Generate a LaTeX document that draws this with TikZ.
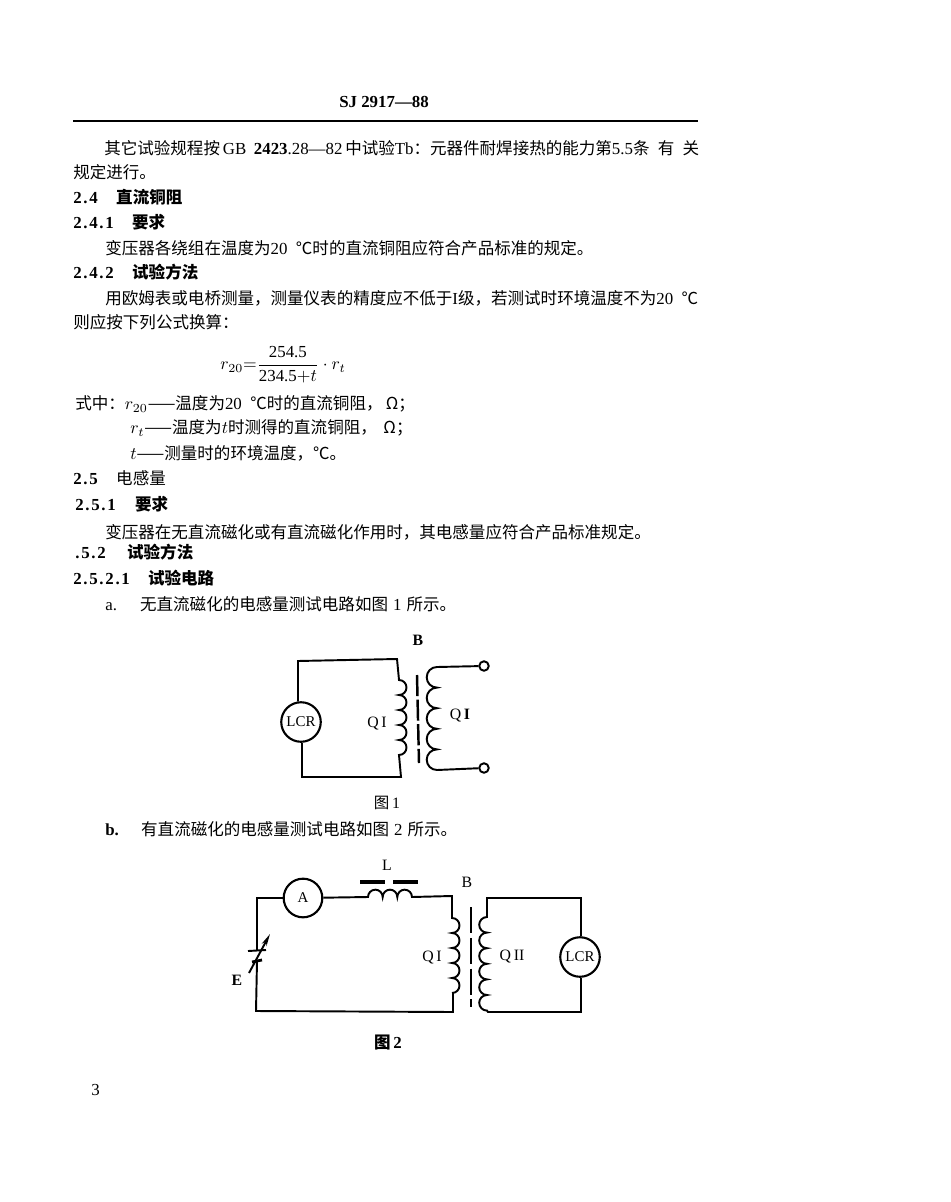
\documentclass[tikz,border=0pt]{standalone}
\usepackage{fontspec}
\setmainfont{Liberation Serif}
\newfontfamily\cjk[Scale=0.98]{Noto Sans CJK SC}
\newfontfamily\numfont[LetterSpace=10]{Liberation Serif}
\newcommand{\zh}[1]{{\cjk #1}}
\newcommand{\zhb}[1]{{\cjk\bfseries #1}}
\newcommand{\hnum}[2]{\makebox[#1pt][l]{{\numfont\bfseries #2}}}
\usepackage{amsmath}
\usetikzlibrary{arrows.meta}
\tikzset{
    page text/.style={anchor=west, inner sep=0pt, font=\fontsize{9.6}{11}\selectfont},
    head text/.style={page text, font=\fontsize{9.6}{11}\selectfont\bfseries},
    fig label/.style={inner sep=0pt, font=\fontsize{9}{11}\selectfont},
    wire/.style={line width=1.1pt},
    meter/.style={circle, draw, line width=1.2pt, fill=white, inner sep=0pt, minimum size=22.5pt, font=\fontsize{8.5}{10}\selectfont},
    terminal/.style={circle, draw, line width=1.1pt, fill=white, inner sep=0pt, minimum size=5.4pt},
    core/.style={line width=1.4pt, dash pattern=on 12pt off 2pt},
}
\begin{document}
\begin{tikzpicture}[x=0.02cm, y=-0.02cm]
    \useasboundingbox (0,0) rectangle (950,1202);

    % header
    \node[head text, anchor=center] (header) at (384,102) {SJ 2917---88};
    \coordinate (ruleL) at (73,121);
    \coordinate (ruleR) at (698,121);
    \draw[line width=1pt] (ruleL) -- (ruleR);

    % body text
    \node[page text] (t1) at (104,148) {\zh{其它试验规程按}\,GB\hspace{0.45em}\textbf{2423}.28---82\,\zh{中试验}Tb\zh{：元器件耐焊接热的能力第}5.5\zh{条\hspace{0.5em}有\hspace{0.5em}关}};
    \node[page text] (t2) at (73,172) {\zh{规定进行。}};
    \node[page text] (t3) at (73,197) {\hnum{24.4}{2.4}\zhb{直流铜阻}};
    \node[page text] (t4) at (73,222) {\hnum{33.5}{2.4.1}\zhb{要求}};
    \node[page text] (t5) at (105,248) {\zh{变压器各绕组在温度为}20\hspace{0.5em}\zh{℃时的直流铜阻应符合产品标准的规定。}};
    \node[page text] (t6) at (73,272) {\hnum{33.5}{2.4.2}\zhb{试验方法}};
    \node[page text] (t7) at (105,298) {\zh{用欧姆表或电桥测量，测量仪表的精度应不低于}I\zh{级，若测试时环境温度不为}20\hspace{0.5em}\zh{℃}};
    \node[page text] (t8) at (73,322) {\zh{则应按下列公式换算：}};
    \node[page text] (formula) at (220,365) {$r_{20}{=}\dfrac{\mbox{254.5}}{\mbox{234.5}{+}t}\cdot r_t$};
    \node[page text] (t9) at (75,404) {\zh{式中：}$r_{20}$\zh{——温度为}20\hspace{0.5em}\zh{℃时的直流铜阻，\hspace{0.2em}Ω；}};
    \node[page text] (t10) at (130,428) {$r_t$\zh{——温度为}$t$\zh{时测得的直流铜阻，\hspace{0.4em}Ω；}};
    \node[page text] (t11) at (130,453) {$t$\zh{——测量时的环境温度，℃。}};
    \node[page text] (t12) at (73,478) {\hnum{24.4}{2.5}\zh{电感量}};
    \node[page text] (t13) at (75,504) {\hnum{34}{2.5.1}\zhb{要求}};
    \node[page text] (t14) at (105,532) {\zh{变压器在无直流磁化或有直流磁化作用时，其电感量应符合产品标准规定。}};
    \node[page text] (t15) at (75,552) {\hnum{29.5}{.5.2}\zhb{试验方法}};
    \node[page text] (t16) at (73,578) {\hnum{42.5}{2.5.2.1}\zhb{试验电路}};
    \node[page text] (t17) at (105,604) {\makebox[19.8pt][l]{a.}\zh{无直流磁化的电感量测试电路如图}\hspace{0.3em}1\hspace{0.3em}\zh{所示。}};
    \node[page text] (t18) at (105,829) {\makebox[20.4pt][l]{\textbf{b.}}\zh{有直流磁化的电感量测试电路如图}\hspace{0.3em}2\hspace{0.3em}\zh{所示。}};
    \node[page text] (pagenum) at (91,1090) {3};

    % figure 1
    \node[meter] (lcrA) at (301,722) {LCR};
    \node[terminal] (termA) at (484,666) {};
    \node[terminal] (termB) at (484,768) {};
    \coordinate (pA1) at (298,661);
    \coordinate (pA2) at (397,659);
    \coordinate (pA3) at (399,680);
    \coordinate (pA4) at (401,777);
    \coordinate (pA5) at (302,777);
    \coordinate (sA1) at (437,667);
    \coordinate (sA2) at (437,770);
    \draw[wire] (lcrA) -- (lcrA.north -| pA1) -- (pA1) -- (pA2) -- (pA3)
        \foreach \i in {1,...,5} {arc (-90:90:7.5)} -- (pA4) -- (pA5) -- (lcrA.south -| pA5);
    \draw[wire] (termA) -- (sA1)
        \foreach \i in {1,...,5} {arc (-90:-270:10.3)} -- (termB);
    \coordinate (coreA1) at (417,675);
    \coordinate (coreA2) at (419,763);
    \draw[core] (coreA1) -- (coreA2);
    \node[fig label] (labBA) at (418,640) {\textbf{B}};
    \node[fig label] (labQA) at (377,724) {Q\,I};
    \node[fig label] (labQB) at (460,716) {Q\,\textbf{I}};
    \node[fig label] (capA) at (387,803) {\zh{图}\,1};

    % figure 2
    \node[meter, minimum size=22pt] (ammeter) at (303,898) {A};
    \node[meter] (lcrB) at (580,957) {LCR};
    \coordinate (pB1) at (257,898);
    \coordinate (pB2) at (256,1011);
    \coordinate (pB3) at (453,1012);
    \coordinate (pB4) at (453,993);
    \coordinate (pB5) at (452,918);
    \coordinate (pB6) at (452,896);
    \coordinate (lA) at (368,897);
    \coordinate (lB) at (412,897);
    \coordinate (batTop) at (257,950);
    \coordinate (batBot) at (257,961);
    % battery wires
    \draw[wire] (ammeter) -- (pB1) -- (batTop);
    \draw[wire] (batBot) -- (pB2) -- (pB3) -- (pB4);
    \draw[wire] (ammeter) -- (lA) \foreach \i in {1,...,3} {arc (180:360:7.33)} -- (pB6) -- (pB5)
        \foreach \i in {1,...,5} {arc (-90:90:7.5)};
    \coordinate (sB1) at (487,898);
    \coordinate (sB2) at (487,917);
    \coordinate (sB3) at (488,1012);
    \coordinate (sB4) at (581,1012);
    \coordinate (sB5) at (581,898);
    \draw[wire] (lcrB) -- (lcrB.north -| sB5) -- (sB5) -- (sB1) -- (sB2)
        \foreach \i in {1,...,6} {arc (-90:-270:7.8)} -- (sB3) -- (sB4) -- (lcrB.south -| sB4);
    \coordinate (coreB1) at (471,907);
    \coordinate (coreB2) at (471,1007);
    \draw[core, dash pattern=on 15pt off 2.5pt] (coreB1) -- (coreB2);
    \coordinate (barA1) at (360,882);
    \coordinate (barA2) at (385,882);
    \coordinate (barB1) at (393,882);
    \coordinate (barB2) at (418,882);
    \draw[line width=2pt] (barA1) -- (barA2);
    \draw[line width=2pt] (barB1) -- (barB2);
    \coordinate (plateL1) at (248,951);
    \coordinate (plateL2) at (266,950);
    \coordinate (plateS1) at (252,962);
    \coordinate (plateS2) at (262,960);
    \coordinate (arrowA) at (249,973);
    \coordinate (arrowB) at (270,934);
    \draw[wire] (plateL1) -- (plateL2);
    \draw[line width=1.6pt] (plateS1) -- (plateS2);
    \draw[line width=1.1pt, -{Stealth[length=7pt, width=3pt]}] (arrowA) -- (arrowB);
    \node[fig label] (labL) at (387,865) {L};
    \node[fig label] (labBB) at (467,882) {B};
    \node[fig label] (labE) at (237,980) {\textbf{E}};
    \node[fig label] (labQC) at (432,958) {Q\,I};
    \node[fig label] (labQD) at (512,957) {Q\,II};
    \node[head text, anchor=center] (capB) at (388,1043) {\zhb{图}\,2};
\end{tikzpicture}
\end{document}
